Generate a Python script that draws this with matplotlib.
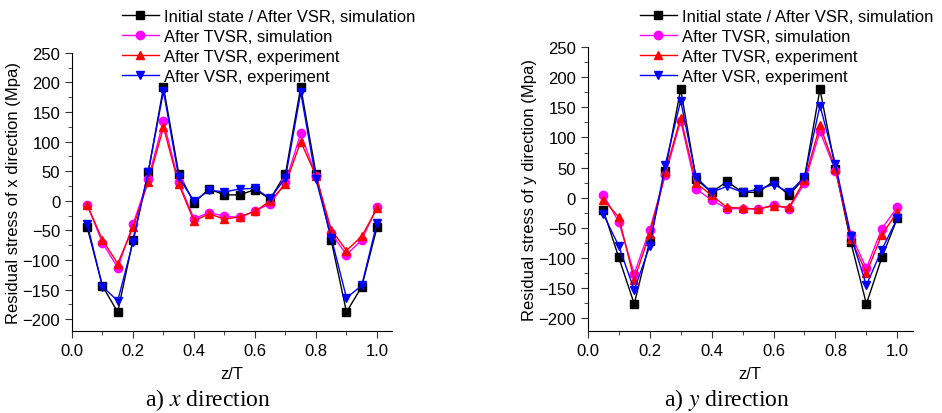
import matplotlib.pyplot as plt
from matplotlib.ticker import MultipleLocator

# z/T positions shared by every series
z = [0.05, 0.10, 0.15, 0.20, 0.25, 0.30, 0.35, 0.40, 0.45, 0.50,
     0.55, 0.60, 0.65, 0.70, 0.75, 0.80, 0.85, 0.90, 0.95, 1.00]

# x direction residual stress (MPa)
x_initial = [-45, -144, -188, -66, 48, 192, 46, -3, 20, 10,
             10, 19, 3, 46, 192, 46, -67, -188, -145, -45]
x_tvsr_sim = [-7, -71, -113, -40, 37, 135, 31, -30, -20, -26,
              -28, -17, -5, 31, 114, 42, -55, -91, -66, -11]
x_tvsr_exp = [-7, -66, -106, -45, 32, 124, 28, -34, -22, -31,
              -27, -18, 0, 28, 100, 42, -49, -84, -60, -13]
x_vsr_exp = [-39, -145, -169, -70, 49, 185, 40, -1, 18, 15,
             20, 21, 4, 39, 183, 36, -62, -164, -143, -37]

# y direction residual stress (MPa)
y_initial = [-20, -99, -176, -72, 44, 180, 31, 9, 27, 9,
             9, 27, 4, 33, 180, 48, -74, -176, -99, -34]
y_tvsr_sim = [5, -40, -126, -53, 37, 128, 15, -4, -18, -18,
              -19, -12, -18, 24, 110, 45, -61, -117, -51, -16]
y_tvsr_exp = [-3, -32, -136, -60, 42, 133, 24, 4, -16, -17,
              -19, -13, -16, 29, 120, 48, -68, -125, -61, -24]
y_vsr_exp = [-27, -80, -153, -80, 54, 161, 34, 9, 19, 9,
             14, 22, 9, 34, 153, 56, -64, -145, -86, -34]

labels = ['Initial state / After VSR, simulation', 'After TVSR, simulation',
          'After TVSR, experiment', 'After VSR, experiment']
colors = ['black', '#ff00ff', '#ff0000', '#0000ff']
markers = ['s', 'o', '^', 'v']

plt.rcParams['font.family'] = ['Liberation Sans', 'DejaVu Sans']
plt.rcParams['mathtext.fontset'] = 'stix'

fig = plt.figure(figsize=(9.42, 4.14), dpi=100)
ax1 = fig.add_axes([0.0764, 0.198, 0.340, 0.672])
ax2 = fig.add_axes([0.624, 0.198, 0.345, 0.686])

panels = [
    (ax1, [x_initial, x_tvsr_sim, x_tvsr_exp, x_vsr_exp], 'x', -220, 0.126, 'a) $x$ direction', 0.221),
    (ax2, [y_initial, y_tvsr_sim, y_tvsr_exp, y_vsr_exp], 'y', -221, 0.676, 'a) $y$ direction', 0.772),
]

for ax, series, d, ybot, leg_x, caption, cap_x in panels:
    for vals, lab, c, m in zip(series, labels, colors, markers):
        ax.plot(z, vals, color=c, marker=m, markersize=6, linewidth=1, label=lab)

    ax.set_xlim(0, 1.05)
    ax.set_ylim(ybot, 250)
    ax.xaxis.set_major_locator(MultipleLocator(0.2))
    ax.xaxis.set_minor_locator(MultipleLocator(0.1))
    ax.yaxis.set_major_locator(MultipleLocator(50))
    ax.yaxis.set_minor_locator(MultipleLocator(25))
    ax.spines['top'].set_visible(False)
    ax.spines['right'].set_visible(False)
    ax.tick_params(axis='both', which='major', labelsize=12, length=5, color='#333333')
    ax.tick_params(axis='both', which='minor', length=3, color='#333333')
    ax.set_xlabel('z/T', fontsize=12, labelpad=6)
    ax.set_ylabel('Residual stress of %s direction (Mpa)' % d, fontsize=12, labelpad=1)

    ax.legend(loc='upper left', bbox_to_anchor=(leg_x, 0.985), bbox_transform=fig.transFigure,
              frameon=False, fontsize=12, handlelength=2.2, labelspacing=0.3,
              handletextpad=0.3, borderpad=0.2, borderaxespad=0)

    fig.text(cap_x, 0.02, caption, ha='center', fontsize=17, family='Liberation Serif')

plt.savefig('out.png')
